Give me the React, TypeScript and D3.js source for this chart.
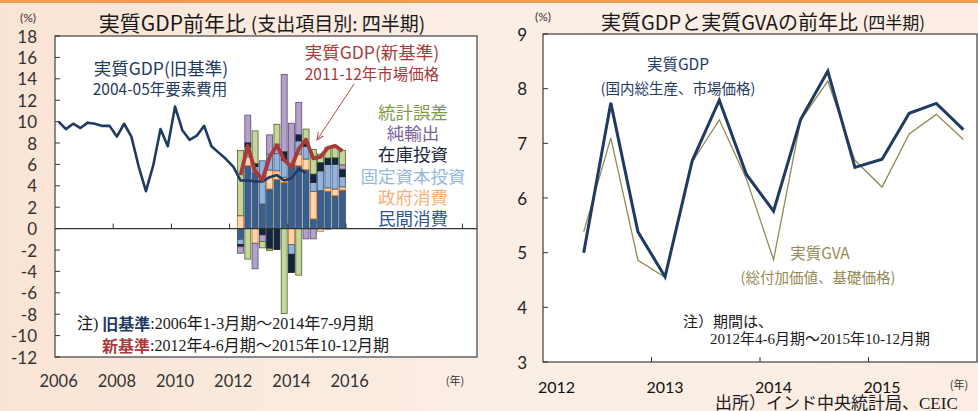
import React from 'react';
import * as d3 from 'd3';

// ---------- DATA ----------
// Old-base real GDP (2004-05 factor cost), 2006Q1 - 2014Q3
const oldGdp = [10.0, 9.3, 9.8, 9.4, 9.9, 9.8, 9.6, 9.6, 8.6, 9.8, 8.6, 5.8, 3.5, 5.9, 9.3, 7.7, 11.4, 9.2, 8.3, 8.7, 9.6, 7.7, 7.1, 6.5, 5.8, 4.5, 4.5, 4.4, 4.4, 4.8, 5.0, 4.5, 4.7, 5.6, 5.2];
// New-base real GDP (2011-12 market prices), 2012Q2 - 2015Q4
const newGdp = [5.0, 7.74, 5.38, 4.56, 6.68, 7.79, 6.43, 5.76, 7.44, 8.32, 6.56, 6.71, 7.55, 7.73, 7.25];
// Real GVA, 2012Q2 - 2015Q4
const realGva = [5.38, 7.10, 4.86, 4.55, 6.66, 7.43, 6.35, 4.87, 7.42, 8.14, 6.69, 6.20, 7.17, 7.53, 7.07];

// Contributions (pp), 2012Q2 - 2015Q4
const privCons = [-1.0, 5.87, 5.2, 2.3, 3.7, 4.6, 4.3, 6.0, 5.87, 5.5, 0.9, 3.54, 3.5, 3.07, 3.6];
const govCons = [1.2, 0.84, -1.37, 0.0, 1.77, 0.8, 0.5, -1.5, 1.09, 1.0, 2.58, -0.25, 0.3, 0.62, 0.3];
const fixedInv = [-0.5, 0.93, 0.6, 4.04, 1.49, 1.6, 1.6, -0.9, 1.24, 1.2, 0.84, 1.86, 2.2, 2.33, 0.95];
const inventory = [-0.2, 0.4, 0.3, -0.6, -1.89, -1.95, 0.8, -1.7, 0.6, 0.3, 0.78, 0.78, 0.6, 0.6, 0.71];
const netExports = [-0.6, 2.56, -2.39, -0.6, 1.8, 0.9, 7.2, 3.85, 3.0, -0.96, -0.96, 0.0, -0.05, 0.0, 0.4];
const discrepancy = [6.1, -2.85, 3.03, -0.6, -0.16, 1.85, -7.95, 0.0, -4.35, 1.3, 2.3, 0.78, 0.98, 1.07, 1.34];

const seriesNames = ['民間消費', '政府消費', '固定資本投資', '在庫投資', '純輸出', '統計誤差'];
const seriesData = [privCons, govCons, fixedInv, inventory, netExports, discrepancy];

const leftYTicks = [18, 16, 14, 12, 10, 8, 6, 4, 2, 0, -2, -4, -6, -8, -10, -12];
const leftXLabels = ['2006', '2008', '2010', '2012', '2014', '2016'];
const rightYTicks = [3, 4, 5, 6, 7, 8, 9];
const rightXLabels = ['2012', '2013', '2014', '2015'];

// ---------- STYLE ----------
const JP = "'Noto Sans CJK JP', sans-serif";
const NUM = "Lato, 'Noto Sans CJK JP', sans-serif";
const SERIF = "'Liberation Serif', 'Noto Sans CJK JP', serif";
const fills = ['#376092', '#FCD5B5', '#8EB4E3', '#10253F', '#B3A2C7', '#C3D69B'];
const strokes = ['#3F4A5A', '#E46C0A', '#4A5568', '#1A1A1A', '#5F497A', '#4F6228'];
const legendColors = ['#2F5597', '#F9AE78', '#95B8E3', '#1A2535', '#7A5FA0', '#7F9C45'];
const NAVY = '#1F3B63';
const RED = '#A83A3A';
const OLIVE = '#948A54';

const qx = (startYear: number, startQ: number, i: number) => startYear + (startQ - 1 + i + 0.5) / 4;

export default function App() {
  const W = 978, H = 411;
  // left chart
  const L = { x0: 55, x1: 477, y0: 36, y1: 357 };
  const xL = d3.scaleLinear().domain([2006, 2020.5]).range([L.x0, L.x1]);
  const yL = d3.scaleLinear().domain([-12, 18]).range([L.y1, L.y0]);
  // right chart
  const R = { x0: 543, x1: 977, y0: 34, y1: 362 };
  const xR = d3.scaleLinear().domain([2012, 2016]).range([R.x0, R.x1]);
  const yR = d3.scaleLinear().domain([3, 9]).range([R.y1, R.y0]);

  const rows = newGdp.map((_, i) => {
    const o: any = { t: qx(2012, 2, i) };
    seriesNames.forEach((n, k) => (o[n] = seriesData[k][i]));
    return o;
  });
  const stack = d3.stack<any>().keys(seriesNames).offset(d3.stackOffsetDiverging).order(d3.stackOrderNone);
  const stacked = stack(rows);
  const bw = ((xL(2007) - xL(2006)) / 4) * 0.82;

  const oldLine = d3.line<number>().x((_, i) => xL(qx(2006, 1, i))).y((d) => yL(d));
  const newLineL = d3.line<number>().x((_, i) => xL(qx(2012, 2, i))).y((d) => yL(d));
  const lineR = d3.line<number>().x((_, i) => xR(qx(2012, 2, i))).y((d) => yR(d));

  const leftXTicks = d3.range(2008, 2021, 2);
  const legendY = [217, 196, 175, 153, 132, 111];

  return (
    <svg width={W} height={H} style={{ position: 'absolute', left: 0, top: 0 }} xmlns="http://www.w3.org/2000/svg">
      <defs>
        <linearGradient id="bg" x1="0" x2="1" y1="0" y2="0">
          <stop offset="0" stopColor="#FAE4D5" />
          <stop offset="0.5" stopColor="#FBEEE5" />
          <stop offset="1" stopColor="#FBEDE3" />
        </linearGradient>
        <marker id="arr" viewBox="0 0 10 10" refX="9" refY="5" markerWidth="8" markerHeight="8" orient="auto">
          <path d="M0,1 L9,5 L0,9" fill="none" stroke={'#B84A4A'} strokeWidth="1.3" />
        </marker>
      </defs>
      <rect x={0} y={0} width={W} height={H} fill="url(#bg)" />
      <rect x={0} y={0} width={W} height={3} fill="#EF9B52" />

      {/* ---------- LEFT CHART ---------- */}
      <text x={262} y={22} textAnchor="middle" dominantBaseline="central" fontFamily={JP} fontSize={21} fill="#1a1a1a">
        実質GDP前年比 <tspan fontSize={19}>(支出項目別: 四半期)</tspan>
      </text>
      <text x={28} y={17} textAnchor="middle" dominantBaseline="central" fontFamily={NUM} fontSize={12} fill="#333">(%)</text>
      <rect x={L.x0} y={L.y0} width={L.x1 - L.x0} height={L.y1 - L.y0} fill="#fff" stroke="#404040" strokeWidth={1.2} />

      {/* bars */}
      {stacked.map((s, k) => (
        <g key={s.key}>
          {s.map((d, i) => {
            const y1 = yL(Math.max(d[0], d[1]));
            const y2 = yL(Math.min(d[0], d[1]));
            if (Math.abs(d[1] - d[0]) < 1e-6) return null;
            return (
              <rect key={i} x={xL(d.data.t) - bw / 2} y={y1} width={bw} height={y2 - y1}
                fill={fills[k]} stroke={strokes[k]} strokeWidth={0.8} />
            );
          })}
        </g>
      ))}

      {/* zero line and ticks */}
      <line x1={L.x0} x2={L.x1} y1={yL(0)} y2={yL(0)} stroke="#333" strokeWidth={1.3} />
      {leftXTicks.map((t) => (
        <line key={t} x1={xL(t)} x2={xL(t)} y1={yL(0)} y2={yL(0) - 5} stroke="#333" strokeWidth={1} />
      ))}
      {leftYTicks.map((t) => (
        <g key={t}>
          <line x1={L.x0} x2={L.x0 + 5} y1={yL(t)} y2={yL(t)} stroke="#333" strokeWidth={1} />
          <text x={37} y={yL(t)} textAnchor="end" dominantBaseline="central" fontFamily={NUM} fontSize={17} fill="#333">{t}</text>
        </g>
      ))}
      {leftXLabels.map((t) => (
        <text key={t} x={xL(qx(+t, 1, 0))} y={381} textAnchor="middle" dominantBaseline="central" fontFamily={NUM} fontSize={16.5} fill="#333">{t}</text>
      ))}
      <text x={455} y={380} textAnchor="middle" dominantBaseline="central" fontFamily={JP} fontSize={11} fill="#333">(年)</text>

      {/* lines */}
      <path d={oldLine(oldGdp) || ''} fill="none" stroke={NAVY} strokeWidth={2.6} strokeLinejoin="round" />
      <path d={newLineL(newGdp) || ''} fill="none" stroke={RED} strokeWidth={3.8} strokeLinejoin="round" />

      {/* labels */}
      <text x={161} y={67} textAnchor="middle" dominantBaseline="central" fontFamily={JP} fontSize={17.5} fill={NAVY}>実質GDP(旧基準)</text>
      <text x={160} y={88} textAnchor="middle" dominantBaseline="central" fontFamily={JP} fontSize={15.5} fill={NAVY}>2004-05年要素費用</text>
      <text x={372} y={51} textAnchor="middle" dominantBaseline="central" fontFamily={JP} fontSize={17.5} fill={RED}>実質GDP(新基準)</text>
      <text x={372} y={73} textAnchor="middle" dominantBaseline="central" fontFamily={JP} fontSize={15.5} fill={RED}>2011-12年市場価格</text>
      <line x1={354} y1={84} x2={317} y2={140} stroke="#B84A4A" strokeWidth={1} markerEnd="url(#arr)" />
      {seriesNames.map((n, k) => (
        <text key={n} x={413} y={legendY[k]} textAnchor="middle" dominantBaseline="central" fontFamily={JP} fontSize={17.5} fill={legendColors[k]}>{n}</text>
      ))}
      <text x={77} y={323} dominantBaseline="central" fontFamily={SERIF} fontSize={16} fill="#1a1a1a">
        注) <tspan fill={NAVY} fontFamily={JP} fontWeight="bold">旧基準</tspan>:2006年1-3月期～2014年7-9月期
      </text>
      <text x={102} y={345} dominantBaseline="central" fontFamily={SERIF} fontSize={16} fill="#1a1a1a">
        <tspan fill={RED} fontFamily={JP} fontWeight="bold">新基準</tspan>:2012年4-6月期～2015年10-12月期
      </text>

      {/* ---------- RIGHT CHART ---------- */}
      <text x={763} y={21} textAnchor="middle" dominantBaseline="central" fontFamily={JP} fontSize={20} fill="#1a1a1a">
        実質GDPと実質GVAの前年比 <tspan fontSize={17}>(四半期)</tspan>
      </text>
      <text x={543} y={16} textAnchor="middle" dominantBaseline="central" fontFamily={NUM} fontSize={12} fill="#333">(%)</text>
      <rect x={R.x0} y={R.y0} width={R.x1 - R.x0} height={R.y1 - R.y0} fill="#fff" stroke="#404040" strokeWidth={1.2} />
      {rightYTicks.map((t) => (
        <g key={t}>
          <line x1={R.x0} x2={R.x0 + 5} y1={yR(t)} y2={yR(t)} stroke="#333" strokeWidth={1} />
          <text x={527} y={yR(t)} textAnchor="end" dominantBaseline="central" fontFamily={NUM} fontSize={17} fill="#222">{t}</text>
        </g>
      ))}
      {[2013, 2014, 2015].map((t) => (
        <line key={t} x1={xR(t)} x2={xR(t)} y1={R.y1} y2={R.y1 - 5} stroke="#333" strokeWidth={1} />
      ))}
      {rightXLabels.map((t) => (
        <text key={t} x={xR(qx(+t, 1, 0))} y={386} textAnchor="middle" dominantBaseline="central" fontFamily={NUM} fontSize={16} fill="#111">{t}</text>
      ))}
      <text x={959} y={384} textAnchor="middle" dominantBaseline="central" fontFamily={JP} fontSize={11} fill="#333">(年)</text>

      <path d={lineR(realGva) || ''} fill="none" stroke={OLIVE} strokeWidth={1.3} strokeLinejoin="miter" />
      <path d={lineR(newGdp) || ''} fill="none" stroke={NAVY} strokeWidth={3} strokeLinejoin="miter" />

      <text x={678} y={63} textAnchor="middle" dominantBaseline="central" fontFamily={JP} fontSize={15.5} fill={NAVY}>実質GDP</text>
      <text x={678} y={87} textAnchor="middle" dominantBaseline="central" fontFamily={JP} fontSize={14.5} fill={NAVY}>(国内総生産、市場価格)</text>
      <text x={820} y={252} textAnchor="middle" dominantBaseline="central" fontFamily={JP} fontSize={15.5} fill={OLIVE}>実質GVA</text>
      <text x={818} y={276} textAnchor="middle" dominantBaseline="central" fontFamily={JP} fontSize={14.5} fill={OLIVE}>(総付加価値、基礎価格)</text>
      <text x={683} y={322} dominantBaseline="central" fontFamily={SERIF} fontSize={15} fill="#1a1a1a">注）期間は、</text>
      <text x={710} y={339} dominantBaseline="central" fontFamily={SERIF} fontSize={15} fill="#1a1a1a">2012年4-6月期～2015年10-12月期</text>
      <text x={715} y={403} dominantBaseline="central" fontFamily={SERIF} fontSize={17} fill="#1a1a1a">出所）インド中央統計局、CEIC</text>
    </svg>
  );
}
